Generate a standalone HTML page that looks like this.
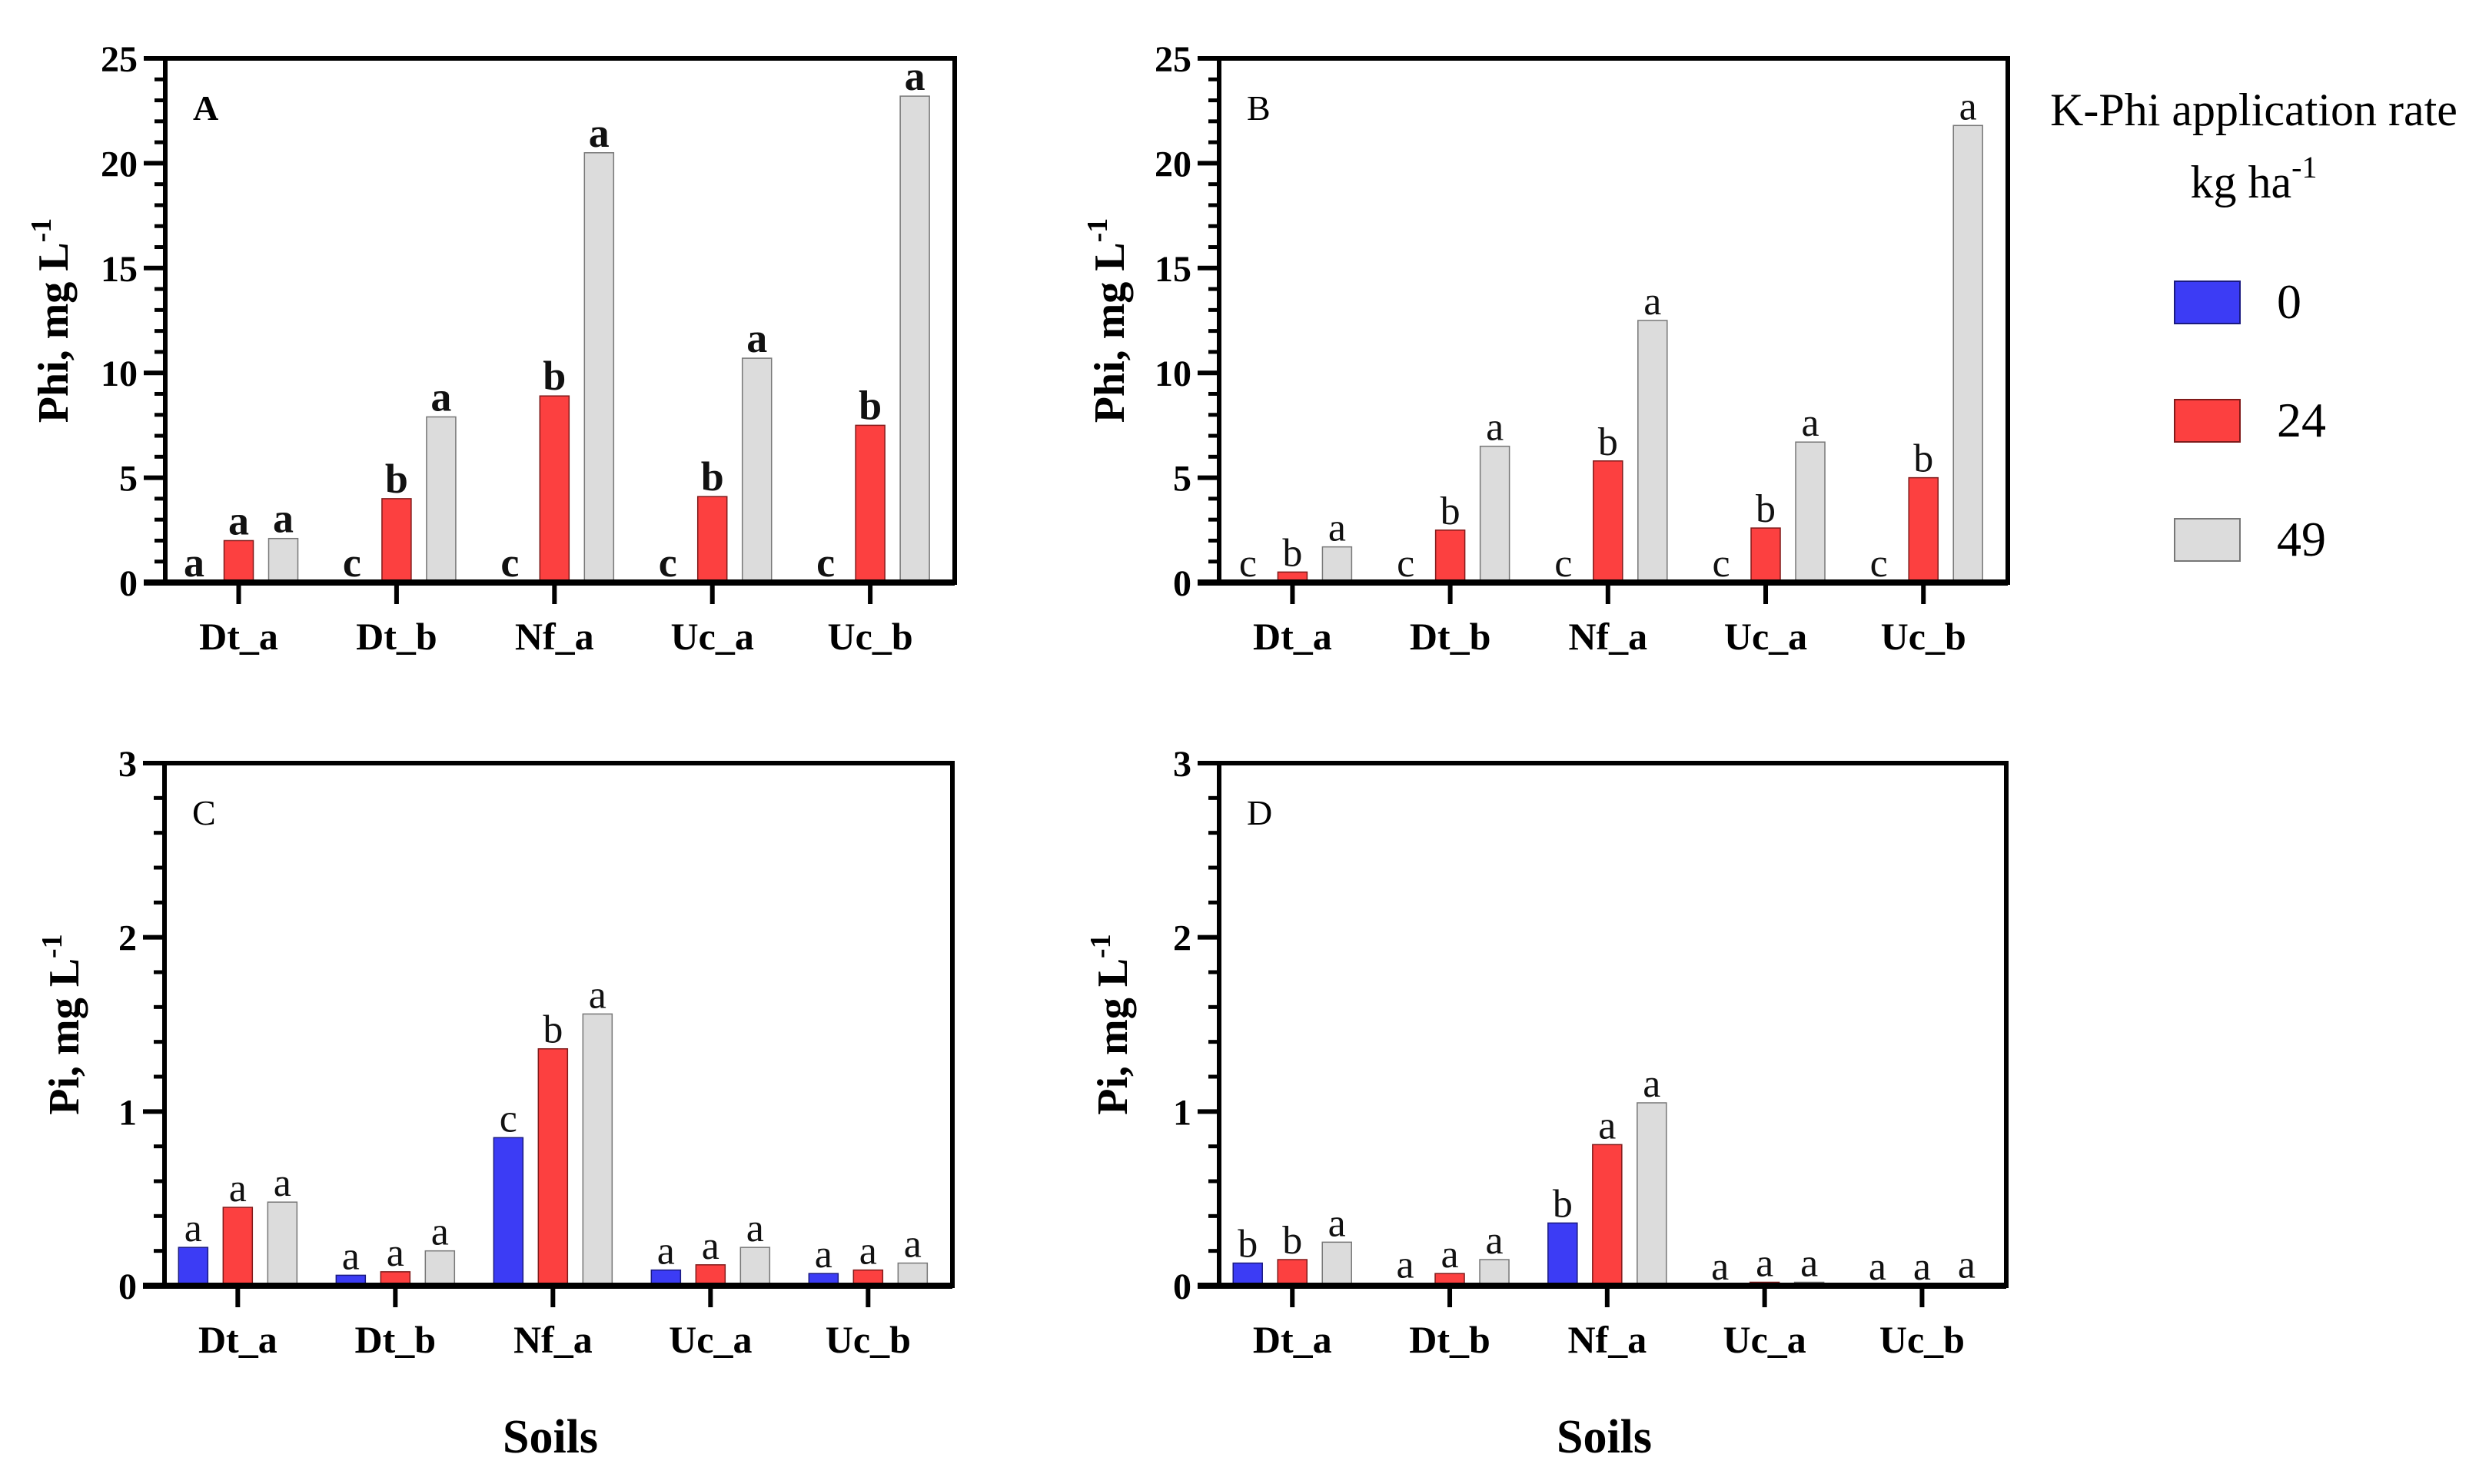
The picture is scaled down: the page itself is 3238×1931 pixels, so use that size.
<!DOCTYPE html>
<html><head><meta charset="utf-8"><style>
html,body{margin:0;padding:0;background:#fff;}
svg{display:block;font-family:"Liberation Serif",serif;}
</style></head><body>
<svg id="fig" width="3238" height="1931" viewBox="0 0 3238 1931" xmlns="http://www.w3.org/2000/svg"></svg>
<script>
const categories = ["Dt_a","Dt_b","Nf_a","Uc_a","Uc_b"];
const seriesNames = ["0","24","49"];
const aBlue = [0,0,0,0,0];
const aRed = [2.0,4.0,8.9,4.1,7.5];
const aGray = [2.1,7.9,20.5,10.7,23.2];
const aLetters = [["a","a","a"],["c","b","a"],["c","b","a"],["c","b","a"],["c","b","a"]];
const bBlue = [0,0,0,0,0];
const bRed = [0.5,2.5,5.8,2.6,5.0];
const bGray = [1.7,6.5,12.5,6.7,21.8];
const bLetters = [["c","b","a"],["c","b","a"],["c","b","a"],["c","b","a"],["c","b","a"]];
const cBlue = [0.22,0.06,0.85,0.09,0.07];
const cRed = [0.45,0.08,1.36,0.12,0.09];
const cGray = [0.48,0.20,1.56,0.22,0.13];
const cLetters = [["a","a","a"],["a","a","a"],["c","b","a"],["a","a","a"],["a","a","a"]];
const dBlue = [0.13,0.01,0.36,0,0];
const dRed = [0.15,0.07,0.81,0.02,0];
const dGray = [0.25,0.15,1.05,0.02,0.01];
const dLetters = [["b","b","a"],["a","a","a"],["b","a","a"],["a","a","a"],["a","a","a"]];
const phiTicks = [0,5,10,15,20,25];
const piTicks = [0,1,2,3];

const NS="http://www.w3.org/2000/svg";
const svg=document.getElementById('fig');
function mk(tag,attrs,parent,text){const e=document.createElementNS(NS,tag);for(const k in attrs)e.setAttribute(k,attrs[k]);if(text!==undefined)e.textContent=text;(parent||svg).appendChild(e);return e;}
const fills=["#3c3cf5","#fc4040","#dcdcdc"];
const edges=["#1a1a80","#801a1a","#777"];

function panel(cfg){
  const g=mk('g',{});
  
  
  const {x0,x1,y0,y1,ymax,minorStep}=cfg;
  const yS=v=>y1-(v/ymax)*(y1-y0);
  const step=(x1-x0)/5;
  const xC=i=>x0+step*(i+0.465);
  const series=[cfg.blue,cfg.red,cfg.gray];
  for(let i=0;i<categories.length;i++){
    for(let s=0;s<3;s++){
      const v=series[s][i];
      const cx=xC(i)+(s-1)*58;
      const top=yS(v);
      const r=mk('rect',{x:cx-19,y:top,width:38,height:Math.max(0,y1-top),fill:fills[s],stroke:edges[s],'stroke-width':1.5},g);
      
      
      const t=mk('text',{x:cx,y:top-8,'text-anchor':'middle','font-size':cfg.bold?54:52,'font-weight':cfg.bold?'bold':'normal',fill:'#111'},g,cfg.letters[i][s]);
      
      
    }
    mk('line',{x1:xC(i),x2:xC(i),y1:y1,y2:y1+28,stroke:'#000','stroke-width':6},g);
    const cl=mk('text',{x:xC(i),y:y1+87,'text-anchor':'middle','font-size':50,'font-weight':'bold'},g,categories[i]);
    
    
  }
  for(let v=0;v<=ymax+1e-9;v+=minorStep){
    mk('line',{x1:x0-14,x2:x0,y1:yS(v),y2:yS(v),stroke:'#000','stroke-width':5},g);
  }
  cfg.ticks.forEach(v=>{
    mk('line',{x1:x0-28,x2:x0,y1:yS(v),y2:yS(v),stroke:'#000','stroke-width':6},g);
    const tl=mk('text',{x:x0-36,y:yS(v)+17,'text-anchor':'end','font-size':48,'font-weight':'bold'},g,String(v));
    
    
  });
  const fr=mk('rect',{x:x0,y:y0,width:x1-x0,height:y1-y0,fill:'none',stroke:'#000','stroke-width':6},g);
  
  
  mk('line',{x1:x0-28,x2:x1,y1:y1,y2:y1,stroke:'#000','stroke-width':8},g);
  const pl=mk('text',{x:x0+36,y:y0+80,'font-size':46,'font-weight':cfg.bold?'bold':'normal'},g,cfg.id);
  
  
  const yt=mk('text',{transform:`translate(${cfg.tx},${(y0+y1)/2}) rotate(-90)`,'text-anchor':'middle','font-size':56,'font-weight':'bold'},g);
  
  
  mk('tspan',{},yt,cfg.ytitle+', mg L');
  mk('tspan',{dy:-22,'font-size':38},yt,'-1');
}
panel({id:'A',x0:215,x1:1242,y0:76,y1:758,ymax:25,minorStep:1,ticks:phiTicks,blue:aBlue,red:aRed,gray:aGray,letters:aLetters,bold:true,tx:88,ytitle:'Phi'});
panel({id:'B',x0:1586,x1:2612,y0:76,y1:758,ymax:25,minorStep:1,ticks:phiTicks,blue:bBlue,red:bRed,gray:bGray,letters:bLetters,bold:false,tx:1462,ytitle:'Phi'});
panel({id:'C',x0:214,x1:1239,y0:993,y1:1673,ymax:3,minorStep:0.2,ticks:piTicks,blue:cBlue,red:cRed,gray:cGray,letters:cLetters,bold:false,tx:102,ytitle:'Pi'});
panel({id:'D',x0:1586,x1:2610,y0:993,y1:1673,ymax:3,minorStep:0.2,ticks:piTicks,blue:dBlue,red:dRed,gray:dGray,letters:dLetters,bold:false,tx:1466,ytitle:'Pi'});

const s1=mk('text',{x:716,y:1890,'text-anchor':'middle','font-size':62,'font-weight':'bold'},svg,'Soils');


const s2=mk('text',{x:2087,y:1890,'text-anchor':'middle','font-size':62,'font-weight':'bold'},svg,'Soils');



const lg=mk('g',{});


const lt=mk('text',{x:2932,y:163,'text-anchor':'middle','font-size':60},lg,'K-Phi application rate');


const lt2=mk('text',{x:2932,y:257,'text-anchor':'middle','font-size':60},lg);


mk('tspan',{},lt2,'kg ha');
mk('tspan',{dy:-26,'font-size':40},lt2,'-1');
const swY=[366,520,675];
seriesNames.forEach((n,s)=>{
  const r=mk('rect',{x:2829,y:swY[s],width:85,height:55,fill:fills[s],stroke:edges[s],'stroke-width':2},lg);
  
  
  const t=mk('text',{x:2962,y:swY[s]+48,'font-size':64},lg,n);
  
  
});
</script>
</body></html>
